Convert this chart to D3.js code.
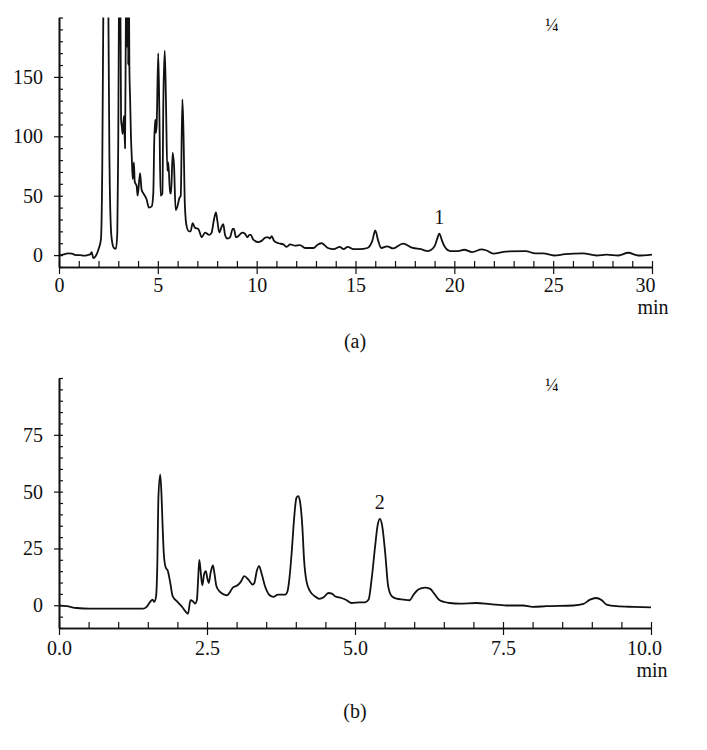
<!DOCTYPE html>
<html>
<head>
<meta charset="utf-8">
<script src="https://cdn.jsdelivr.net/npm/d3@7/dist/d3.min.js"></script>
<style>
  html, body { margin: 0; padding: 0; background: #fff; }
  svg { display: block; }
  svg text { font-family: "Liberation Serif", "Times New Roman", "DejaVu Serif", serif !important; fill: #111; }
</style>
</head>
<body>
<svg id="chart" width="707" height="750"></svg>
<script>
// ---------- DATA ----------
// Panel (a): time (min) and detector signal
const timeA = [0,0.2,0.45,0.65,0.85,1.06,1.25,1.45,1.6,1.65,1.74,1.85,2.0,2.12,2.18,2.24,2.3,2.37,2.44,2.5,2.56,2.62,2.68,2.78,2.88,2.95,2.99,3.03,3.07,3.11,3.14,3.18,3.22,3.26,3.29,3.34,3.38,3.41,3.44,3.47,3.5,3.53,3.56,3.6,3.64,3.68,3.73,3.79,3.83,3.93,3.98,4.1,4.18,4.27,4.43,4.55,4.69,4.77,4.82,4.87,4.9,4.94,5.02,5.08,5.14,5.23,5.28,5.35,5.41,5.48,5.53,5.62,5.67,5.75,5.82,5.9,5.99,6.09,6.16,6.24,6.29,6.37,6.46,6.58,6.66,6.76,6.88,7.05,7.22,7.39,7.6,7.72,7.84,7.94,8.01,8.11,8.23,8.31,8.4,8.52,8.65,8.79,8.85,8.95,9.07,9.27,9.41,9.53,9.63,9.7,9.83,10.08,10.25,10.47,10.59,10.67,10.76,10.88,11.1,11.35,11.52,11.69,11.94,12.19,12.45,12.87,13.1,13.29,13.46,13.6,13.9,14.2,14.4,14.6,14.9,15.2,15.6,15.85,16.0,16.15,16.3,16.6,16.9,17.4,17.9,18.3,18.67,19.0,19.12,19.24,19.38,19.5,19.8,20.2,20.5,20.9,21.38,21.6,21.97,22.6,23.6,24.1,24.5,25.05,25.6,26.5,27.2,27.7,28.3,28.8,29.3,30.0];
const signalA = [0,0.5,1.4,1.2,0,0,-0.5,0,1,2.5,-2.5,-1,5,13,60,200,600,900,600,200,70,25,12,6,5.3,19,80,200,500,200,114,108,102,112,117,90,190,270,175,260,160,240,160,130,100,83,64,78,62,58,50,69,55,52,47,40,41,52,97,114,103,109,170,117,50,52,131,172,131,71,78,52,52,86,75,38,41,48,50,131,109,41,24,20,20,27,23,22,15,19,17,19,30,36,29,19,24,26,17,14,15,22,22,15,16,19,18,15,17,17,13,11,12,15,15,14,16,12,10,9,7,9,8,8.4,6,6,9,10,8,6,5,7,5,7,5,5,6,12,20.8,12,6,7.4,5.6,9.6,6,5,3.4,7.4,13,18,12,7.4,3.4,3.4,4.5,2.6,4.8,4.1,1.3,3,3.4,1.4,1.5,-0.3,0.8,1.4,-0.3,0.4,-0.3,2,-0.3,0.5];

// Panel (b)
const timeB = [0,0.13,0.3,0.52,1.42,1.48,1.54,1.58,1.61,1.64,1.66,1.68,1.71,1.73,1.75,1.77,1.8,1.84,1.88,1.92,1.99,2.07,2.16,2.18,2.22,2.26,2.3,2.33,2.35,2.37,2.39,2.42,2.45,2.48,2.51,2.53,2.56,2.6,2.62,2.66,2.72,2.79,2.84,2.89,2.94,3.01,3.07,3.13,3.2,3.27,3.3,3.34,3.38,3.42,3.48,3.56,3.62,3.7,3.82,3.86,3.89,3.93,3.97,4.01,4.04,4.07,4.11,4.14,4.18,4.24,4.32,4.4,4.47,4.55,4.61,4.66,4.77,4.86,4.94,5.08,5.17,5.23,5.28,5.34,5.38,5.42,5.46,5.51,5.56,5.62,5.7,5.82,5.92,5.99,6.07,6.18,6.27,6.35,6.43,6.6,6.77,7.05,7.28,7.56,7.84,8.0,8.24,8.69,8.86,8.97,9.07,9.17,9.25,9.42,9.7,10.0];
const signalB = [0,-0.4,-1.2,-1.5,-1.5,-0.7,1.5,2.5,1.5,4,17,48,57.5,49.5,35,23,16.8,15,9.8,4,1.8,-0.4,-3.4,-3.7,2.2,1.8,0.7,2.5,11.3,20,15.7,8.8,13.5,15,11.3,9.8,14.2,17.5,15,8.4,5.9,4.7,4.4,5.9,7.9,8.7,10.3,12.8,11.3,9.1,9.8,15,17.2,14.2,8.4,4.4,3.7,4.7,4.7,6.2,11.3,23,37.7,47.2,48,45.8,34.8,20,10.6,6.2,4,2.8,3.5,5.4,5.1,4,3.2,2.2,1,1.3,1.3,2.5,11.3,26,34.8,38,34.8,23,8.4,4,2.9,2.5,2.2,4.7,6.9,7.8,7.2,4.7,2.2,1,0.7,1,0.5,-0.1,-0.1,-0.7,-0.4,-0.1,0.6,2.5,3.2,2.2,0.3,-0.4,-0.7,-0.9];

// Axis ticks
const xMajorA = [0,5,10,15,20,25,30];
const xMinorA = d3.range(0, 31, 1);
const yMajorA = [0,50,100,150];
const yMinorA = d3.range(-10, 201, 10);
const xMajorB = [0,2.5,5,7.5,10];
const xMinorB = d3.range(0, 10.01, 0.5);
const yMajorB = [0,25,50,75];
const yMinorB = d3.range(-10, 101, 5);

const panelLabels = ["(a)", "(b)"];
const peakLabels = ["1", "2"];
const peakTimes = [19.24, 5.42];
const peakValues = [18, 38];

// ---------- DRAW ----------
const svg = d3.select("#chart");
const INK = "#111";
const SERIF = '"Liberation Serif", "Times New Roman", "DejaVu Serif", serif';

function panel(cfg) {
  const g = svg.append("g");
  const x = d3.scaleLinear().domain(cfg.xDomain).range([cfg.left, cfg.right]);
  const y = d3.scaleLinear().domain(cfg.yDomain).range([cfg.bottom, cfg.top]);

  const clipId = "clip" + cfg.id;
  svg.append("clipPath").attr("id", clipId)
    .append("rect").attr("x", cfg.left - 2).attr("y", cfg.top)
    .attr("width", cfg.right - cfg.left + 4).attr("height", cfg.bottom - cfg.top);

  const pts = cfg.t.map((t, i) => [t, cfg.v[i]]);
  const line = d3.line().x(d => x(d[0])).y(d => y(d[1])).curve(d3.curveMonotoneX);
  g.append("path").datum(pts)
    .attr("clip-path", `url(#${clipId})`)
    .attr("d", line)
    .attr("fill", "none").attr("stroke", INK)
    .attr("stroke-width", 1.8).attr("stroke-linejoin", "round");

  const xMin = g.append("g").attr("transform", `translate(0,${cfg.bottom})`)
    .call(d3.axisBottom(x).tickValues(cfg.xMinor).tickSize(-6).tickSizeOuter(0).tickFormat(""));
  const xMaj = g.append("g").attr("transform", `translate(0,${cfg.bottom})`)
    .call(d3.axisBottom(x).tickValues(cfg.xMajor).tickSize(7).tickSizeOuter(0)
      .tickPadding(cfg.xPad).tickFormat(cfg.xFmt));
  const yMin = g.append("g").attr("transform", `translate(${cfg.left},0)`)
    .call(d3.axisLeft(y).tickValues(cfg.yMinor).tickSize(-4).tickSizeOuter(0).tickFormat(""));
  const yMaj = g.append("g").attr("transform", `translate(${cfg.left},0)`)
    .call(d3.axisLeft(y).tickValues(cfg.yMajor).tickSize(5).tickSizeOuter(0)
      .tickPadding(11).tickFormat(d3.format("d")));

  [xMin, xMaj, yMin, yMaj].forEach(a => {
    a.attr("font-family", null).attr("font-size", null);
    a.selectAll("path.domain").attr("stroke", INK).attr("stroke-width", 1.6);
    a.selectAll("line").attr("stroke", INK).attr("stroke-width", 1.2);
    a.selectAll("text").style("font-family", SERIF).style("font-size", "20px").attr("fill", INK);
  });
  xMaj.selectAll(".tick").filter(d => d === cfg.xDomain[1])
    .select("text").attr("dx", -7);

  const lab = (xx, yy, size, txt) => g.append("text").attr("x", xx).attr("y", yy)
    .attr("text-anchor", "middle").style("font-family", SERIF).style("font-size", size + "px").text(txt);
  lab(cfg.right + 1, cfg.minY, 20, "min");
  lab(552, cfg.top + 13, 18, "\u00BC");
  lab(x(cfg.peakT), y(cfg.peakV) - 10, 20, cfg.peakLabel);
  lab(355, cfg.labelY, 20, cfg.panelLabel);
}

panel({
  id: "A", t: timeA, v: signalA,
  xDomain: [0, 30], yDomain: [-10, 200],
  left: 59, right: 652, top: 17.5, bottom: 267,
  xMajor: xMajorA, xMinor: xMinorA, yMajor: yMajorA, yMinor: yMinorA,
  xFmt: d3.format("d"), xPad: 4, minY: 314,
  peakT: peakTimes[0], peakV: peakValues[0], peakLabel: peakLabels[0],
  panelLabel: panelLabels[0], labelY: 348
});

panel({
  id: "B", t: timeB, v: signalB,
  xDomain: [0, 10], yDomain: [-10, 100],
  left: 59, right: 651, top: 378, bottom: 628,
  xMajor: xMajorB, xMinor: xMinorB, yMajor: yMajorB, yMinor: yMinorB,
  xFmt: d3.format(".1f"), xPad: 6, minY: 677,
  peakT: peakTimes[1], peakV: peakValues[1], peakLabel: peakLabels[1],
  panelLabel: panelLabels[1], labelY: 718
});
</script>
</body>
</html>
